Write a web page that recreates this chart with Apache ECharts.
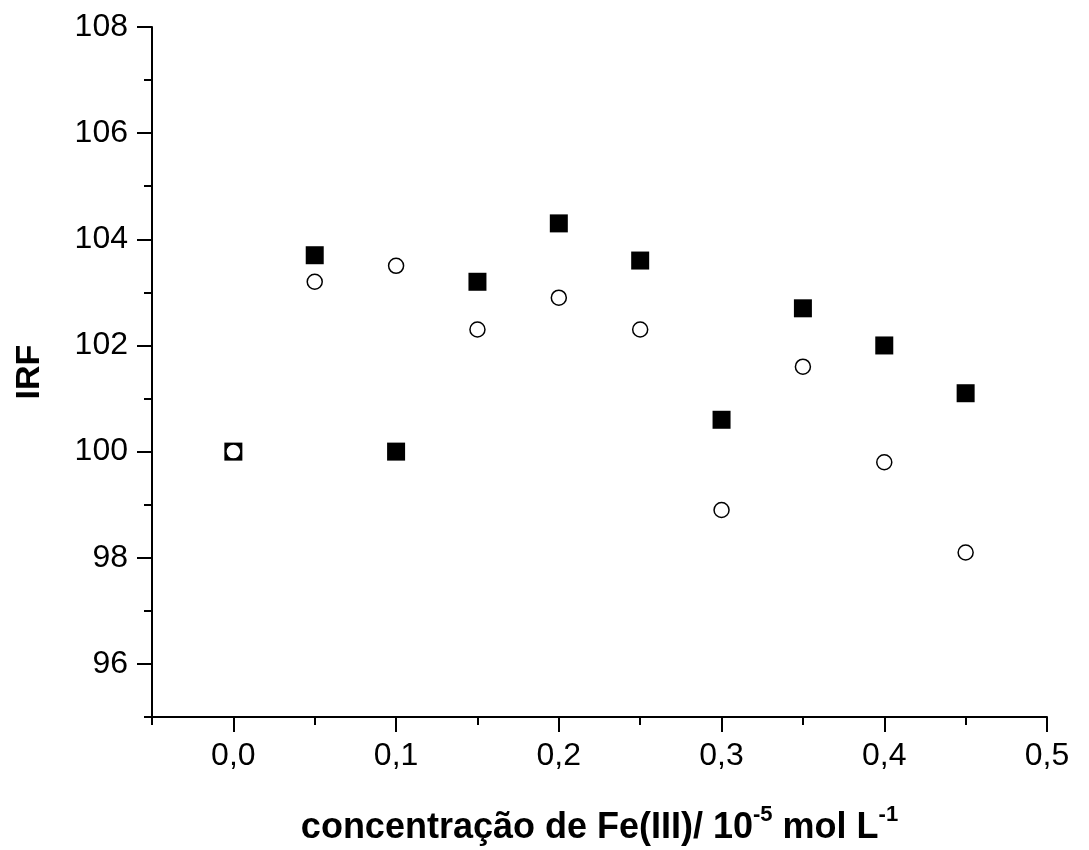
<!DOCTYPE html>
<html>
<head>
<meta charset="utf-8">
<script src="https://cdn.jsdelivr.net/npm/echarts@6/dist/echarts.min.js"></script>
<style>html,body{margin:0;padding:0;background:#fff}#c{width:1089px;height:850px}</style>
</head>
<body>
<div id="c"></div>
<script>
const xValues = [0, 0.05, 0.1, 0.15, 0.2, 0.25, 0.3, 0.35, 0.4, 0.45];
const squares = [100, 103.7, 100, 103.2, 104.3, 103.6, 100.6, 102.7, 102.0, 101.1];
const circles = [100, 103.2, 103.5, 102.3, 102.9, 102.3, 98.9, 101.6, 99.8, 98.1];
const xMajorTicks = [0, 0.1, 0.2, 0.3, 0.4, 0.5];
const xMinorTicks = [-0.05, 0.05, 0.15, 0.25, 0.35, 0.45];
const yMajorTicks = [96, 98, 100, 102, 104, 106, 108];
const yMinorTicks = [95, 97, 99, 101, 103, 105, 107];

const font = '"Liberation Sans", Arial, sans-serif';
const chart = echarts.init(document.getElementById('c'));
const fmtX = v => (Math.round(v * 10) / 10).toFixed(1).replace('.', ',');

chart.setOption({
  animation: false,
  grid: { left: 152, right: 42, top: 27, bottom: 133, containLabel: false, outerBoundsMode: 'none' },
  xAxis: [
    {
      type: 'value', min: -0.05, max: 0.5,
      axisLine: { show: true, onZero: false, lineStyle: { color: '#000', width: 2 } },
      axisTick: { show: true, inside: false, length: 8, customValues: xMinorTicks, lineStyle: { color: '#000', width: 2 } },
      axisLabel: { show: false },
      splitLine: { show: false }
    },
    {
      type: 'value', min: -0.05, max: 0.5, position: 'bottom', gridIndex: 0,
      axisLine: { show: false, onZero: false },
      axisTick: { show: true, inside: false, length: 15, customValues: xMajorTicks, lineStyle: { color: '#000', width: 2 } },
      axisLabel: { show: true, customValues: xMajorTicks, formatter: fmtX, color: '#000', fontSize: 32, fontFamily: font, margin: 23 },
      splitLine: { show: false },
      name: '{b|concentração de Fe(III)/ 10}{s|-5}{b| mol L}{s|-1}',
      nameLocation: 'middle', nameGap: 87,
      nameTextStyle: {
        rich: {
          b: { fontSize: 36, fontWeight: 'bold', fontFamily: font, color: '#000', verticalAlign: 'bottom', lineHeight: 42 },
          s: { fontSize: 22, fontWeight: 'bold', fontFamily: font, color: '#000', verticalAlign: 'top', padding: [0, 0, 20, 0], lineHeight: 42 }
        }
      }
    }
  ],
  yAxis: [
    {
      type: 'value', min: 95, max: 108,
      axisLine: { show: true, onZero: false, lineStyle: { color: '#000', width: 2 } },
      axisTick: { show: true, inside: false, length: 8, customValues: yMinorTicks, lineStyle: { color: '#000', width: 2 } },
      axisLabel: { show: false },
      splitLine: { show: false }
    },
    {
      type: 'value', min: 95, max: 108, position: 'left', gridIndex: 0,
      axisLine: { show: false, onZero: false },
      axisTick: { show: true, inside: false, length: 15, customValues: yMajorTicks, lineStyle: { color: '#000', width: 2 } },
      axisLabel: { show: true, customValues: yMajorTicks, color: '#000', fontSize: 32, fontFamily: font, margin: 24 },
      splitLine: { show: false },
      name: 'IRF', nameLocation: 'middle', nameGap: 105, nameRotate: 90,
      nameTextStyle: { fontSize: 34, fontWeight: 'bold', fontFamily: font, color: '#000' }
    }
  ],
  series: [
    {
      type: 'scatter', xAxisIndex: 0, yAxisIndex: 0,
      symbol: 'rect', symbolSize: 18,
      itemStyle: { color: '#000', opacity: 1 },
      data: xValues.map((x, i) => [x, squares[i]]),
      z: 2
    },
    {
      type: 'scatter', xAxisIndex: 0, yAxisIndex: 0,
      symbol: 'circle', symbolSize: 15,
      itemStyle: { color: '#fff', borderColor: '#000', borderWidth: 1.5, opacity: 1 },
      data: xValues.map((x, i) => [x, circles[i]]),
      z: 3
    }
  ]
});
</script>
</body>
</html>
